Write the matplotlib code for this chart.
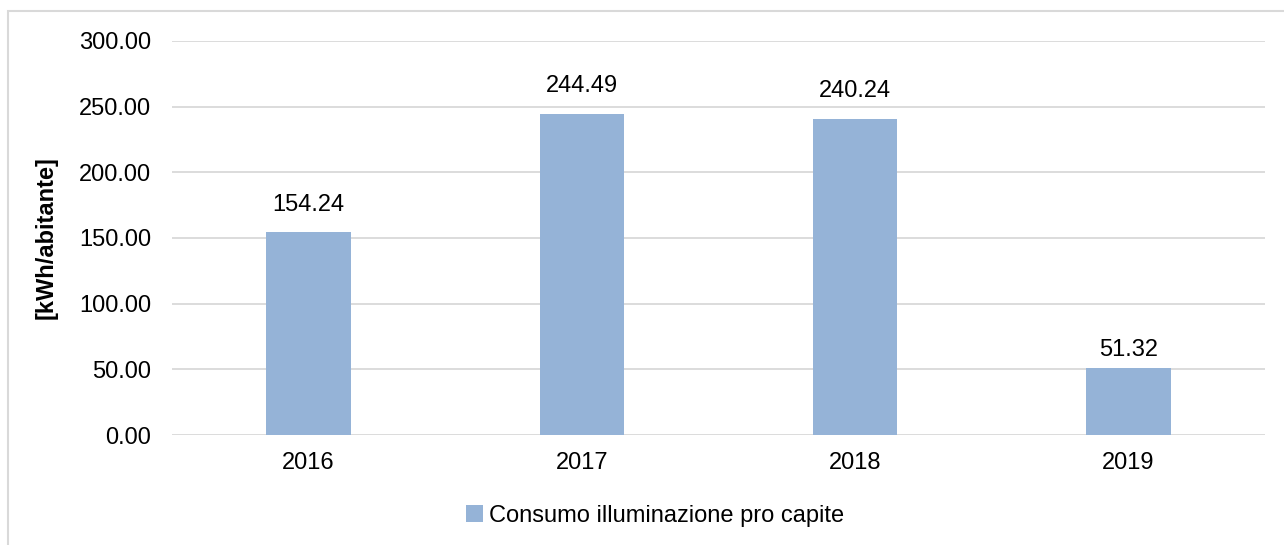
import matplotlib
matplotlib.use("Agg")
import matplotlib.pyplot as plt
from matplotlib.patches import Rectangle, Patch

years = ["2016", "2017", "2018", "2019"]
values = [154.24, 244.49, 240.24, 51.32]
yticks = [0, 50, 100, 150, 200, 250, 300]
series_name = "Consumo illuminazione pro capite"
ylabel = "[kWh/abitante]"

# label offsets above bars (points) - the last label sits closer in the original
label_offsets = [11.5, 12.5, 12.5, 4.5]

plt.rcParams['font.family'] = ['Liberation Sans', 'DejaVu Sans']
W, H = 1284, 545
fig = plt.figure(figsize=(W / 100, H / 100), dpi=100)
ax = fig.add_axes([172 / W, 1 - 435 / H, (1265 - 172) / W, (435 - 41) / H])

bar_color = "#95B3D7"
grid_color = "#D9D9D9"
x = list(range(len(years)))
ax.bar(x, values, width=0.31, color=bar_color, zorder=3)
ax.set_xlim(-0.5, len(years) - 0.5)
ax.set_ylim(0, 300)
ax.set_yticks(yticks)
ax.set_yticklabels([f"{v:.2f}" for v in yticks])
ax.set_xticks(x)
ax.set_xticklabels(years)
for s in ax.spines.values():
    s.set_visible(False)
ax.yaxis.grid(True, color=grid_color, linewidth=1.3, zorder=0)
ax.set_axisbelow(True)
ax.tick_params(axis='y', length=0, pad=15, labelsize=17)
ax.tick_params(axis='x', length=0, pad=12, labelsize=17)

for xi, v, off in zip(x, values, label_offsets):
    ax.annotate(f"{v:.2f}", (xi, v), xytext=(0, off), textcoords="offset points",
                ha="center", va="bottom", fontsize=17)

ax.set_ylabel(ylabel, fontsize=17, fontweight="bold")
ax.yaxis.set_label_coords((58 - 172) / (1265 - 172), 0.5)

handle = Patch(facecolor=bar_color, edgecolor="none")
fig.legend([handle], [series_name], loc="center", bbox_to_anchor=(655 / W, 1 - 516 / H),
           frameon=False, fontsize=17, handlelength=0.75, handleheight=0.75,
           handletextpad=0.25, borderpad=0)

fig.patches.append(Rectangle((8 / W, -0.5), 2.0, 1.5 - 11 / H, transform=fig.transFigure,
                             fill=False, edgecolor=grid_color, linewidth=1.5))

fig.savefig("out.png", dpi=100)
